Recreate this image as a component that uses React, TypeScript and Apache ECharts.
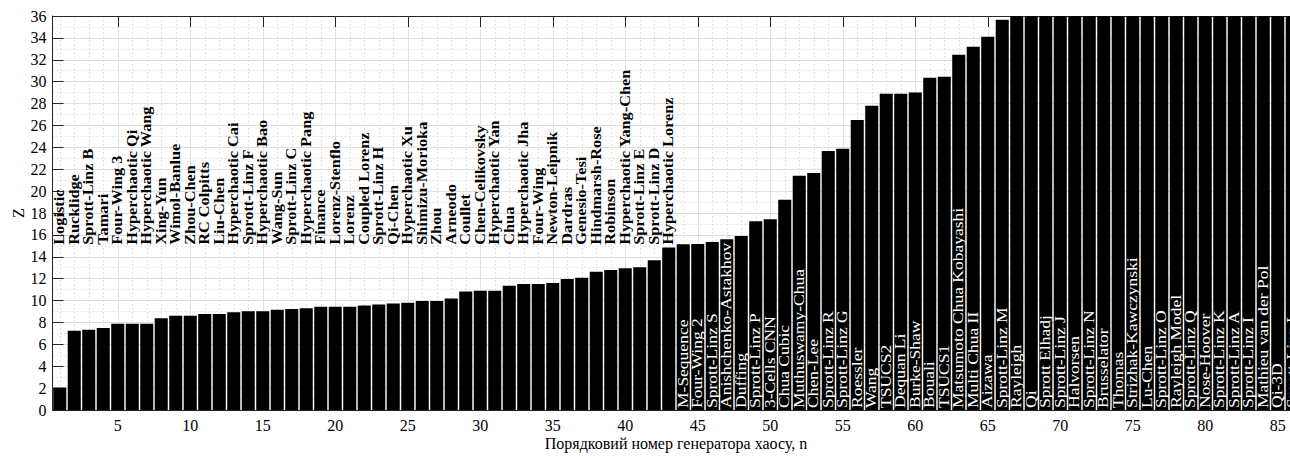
import { useEffect, useRef } from 'react';
import * as echarts from 'echarts';

// Chaos generators, ordered by their Z score
const generatorNames: string[] = [
  'Logistic', 'Rucklidge', 'Sprott-Linz B', 'Tamari', 'Four-Wing 3',
  'Hyperchaotic Qi', 'Hyperchaotic Wang', 'Xing-Yun', 'Wimol-Banlue', 'Zhou-Chen',
  'RC Colpitts', 'Liu-Chen', 'Hyperchaotic Cai', 'Sprott-Linz F', 'Hyperchaotic Bao',
  'Wang-Sun', 'Sprott-Linz C', 'Hyperchaotic Pang', 'Finance', 'Lorenz-Stenflo',
  'Lorenz', 'Coupled Lorenz', 'Sprott-Linz H', 'Qi-Chen', 'Hyperchaotic Xu',
  'Shimizu-Morioka', 'Zhou', 'Arneodo', 'Coullet', 'Chen-Celikovsky',
  'Hyperchaotic Yan', 'Chua', 'Hyperchaotic Jha', 'Four-Wing', 'Newton-Leipnik',
  'Dardras', 'Genesio-Tesi', 'Hindmarsh-Rose', 'Robinson', 'Hyperchaotic Yang-Chen',
  'Sprott-Linz E', 'Sprott-Linz D', 'Hyperchaotic Lorenz', 'M-Sequence', 'Four-Wing 2',
  'Sprott-Linz S', 'Anishchenko-Astakhov', 'Duffing', 'Sprott-Linz P', '3-Cells CNN',
  'Chua Cubic', 'Muthuswamy-Chua', 'Chen-Lee', 'Sprott-Linz R', 'Sprott-Linz G',
  'Roessler', 'Wang', 'TSUCS2', 'Dequan Li', 'Burke-Shaw',
  'Bouali', 'TSUCS1', 'Matsumoto Chua Kobayashi', 'Multi Chua II', 'Aizawa',
  'Sprott-Linz M', 'Rayleigh', 'Qi', 'Sprott Elhadj', 'Sprott-Linz J',
  'Halvorsen', 'Sprott-Linz N', 'Brusselator', 'Thomas', 'Strizhak-Kawczynski',
  'Lu-Chen', 'Sprott-Linz O', 'Rayleigh Model', 'Sprott-Linz Q', 'Nose-Hoover',
  'Sprott-Linz K', 'Sprott-Linz A', 'Sprott-Linz I', 'Mathieu van der Pol', 'Qi-3D',
  'Sprott-Linz L',
];

const zValues: number[] = [
  2.05, 7.25, 7.33, 7.5, 7.89, 7.89, 7.89, 8.38, 8.62, 8.62,
  8.78, 8.78, 8.93, 9.02, 9.02, 9.17, 9.23, 9.29, 9.44, 9.44,
  9.44, 9.54, 9.63, 9.72, 9.81, 9.96, 9.96, 10.18, 10.82, 10.9,
  10.9, 11.36, 11.52, 11.52, 11.6, 11.97, 12.09, 12.64, 12.8, 12.95,
  13.04, 13.68, 14.84, 15.14, 15.17, 15.36, 15.6, 15.9, 17.25, 17.43,
  19.2, 21.4, 21.66, 23.67, 23.86, 26.5, 27.8, 28.9, 28.9, 29.0,
  30.35, 30.44, 32.45, 33.2, 34.1, 35.65, 37.4, 38.9, 40.2, 41.5,
  43.1, 44.6, 46.8, 48.3, 50.9, 53.2, 55.7, 58.4, 61.0, 64.6,
  68.1, 72.5, 77.9, 83.3, 90.6, 98.2,
];

// generator numbers n = 1..N along the x axis
const generatorNumbers: string[] = generatorNames.map((_, i) => String(i + 1));

const Z_MIN = 0;
const Z_MAX = 36;
const Z_STEP = 2;
const N_STEP = 5;

// names of the first generators sit in a row above the bars, the rest inside them
const OUTSIDE_COUNT = 43;
const OUTSIDE_LABEL_BASE = 15.1;

const SERIF = '"Liberation Serif", "Times New Roman", serif';
const X_TITLE = 'Порядковий номер генератора хаосу, n';
const Y_TITLE = 'Z';

export default function App() {
  const ref = useRef<HTMLDivElement>(null);

  useEffect(() => {
    if (!ref.current) return;
    const chart = echarts.init(ref.current, undefined, { renderer: 'svg' });

    const isMajor = (index: number) => (index + 1) % N_STEP === 0;
    const labelData = generatorNames.map((_, i) => [i, i < OUTSIDE_COUNT ? OUTSIDE_LABEL_BASE : Z_MIN]);

    chart.setOption({
      animation: false,
      backgroundColor: '#ffffff',
      grid: { left: 52.5, right: 0.5, top: 16, bottom: 47, containLabel: false, outerBoundsMode: 'none' },
      xAxis: [
        {
          type: 'category',
          data: generatorNumbers,
          position: 'bottom',
          boundaryGap: true,
          name: X_TITLE,
          nameLocation: 'middle',
          nameGap: 25,
          nameMoveOverlap: false,
          nameTextStyle: { fontFamily: SERIF, fontSize: 16, color: '#000' },
          axisLine: { show: true, lineStyle: { color: '#262626', width: 1 } },
          axisTick: { show: true, inside: true, length: 11, alignWithLabel: true, interval: isMajor, lineStyle: { color: '#262626' } },
          axisLabel: {
            show: true,
            interval: isMajor,
            margin: 7,
            fontFamily: SERIF,
            fontSize: 16,
            color: '#000',
          },
          splitLine: { show: true, alignWithLabel: true, interval: isMajor, lineStyle: { color: '#dedede', width: 1 } },
        },
        {
          type: 'category',
          data: generatorNumbers,
          position: 'top',
          boundaryGap: true,
          axisLine: { show: true, lineStyle: { color: '#262626', width: 1 } },
          axisTick: { show: true, inside: true, length: 11, alignWithLabel: true, interval: isMajor, lineStyle: { color: '#262626' } },
          axisLabel: { show: false },
          splitLine: { show: true, alignWithLabel: true, interval: 0, lineStyle: { color: '#e2e2e2', width: 1, type: [2, 2] } },
        },
      ],
      yAxis: {
        type: 'value',
        min: Z_MIN,
        max: Z_MAX,
        interval: Z_STEP,
        name: Y_TITLE,
        nameLocation: 'middle',
        nameGap: 26,
        nameMoveOverlap: false,
        nameRotate: 90,
        nameTextStyle: { fontFamily: SERIF, fontSize: 16, color: '#000' },
        axisLine: { show: true, lineStyle: { color: '#262626', width: 1 } },
        axisTick: { show: true, inside: true, length: 11, lineStyle: { color: '#262626' } },
        axisLabel: { margin: 6, fontFamily: SERIF, fontSize: 16, color: '#000' },
        splitLine: { show: true, lineStyle: { color: '#dedede', width: 1 } },
        minorTick: { show: false, splitNumber: 2 },
        minorSplitLine: { show: true, lineStyle: { color: '#e2e2e2', width: 1, type: [2, 2] } },
      },
      series: [
        {
          type: 'bar',
          xAxisIndex: 0,
          data: zValues,
          barCategoryGap: '10%',
          itemStyle: { color: '#000000' },
          clip: true,
          z: 2,
        },
        {
          type: 'custom',
          xAxisIndex: 0,
          data: labelData,
          z: 5,
          silent: true,
          clip: false,
          renderItem: (params: any, api: any) => {
            const idx = params.dataIndex;
            const outside = idx < OUTSIDE_COUNT;
            const pt = api.coord([api.value(0), api.value(1)]);
            return {
              type: 'text',
              x: pt[0],
              y: outside ? pt[1] : pt[1] - 2,
              rotation: Math.PI / 2,
              scaleX: 1,
              scaleY: 0.85,
              style: {
                text: generatorNames[idx],
                fill: outside ? '#000000' : '#ffffff',
                fontFamily: SERIF,
                fontSize: outside ? 16.3 : 17.5,
                fontWeight: outside ? 'bold' : 'normal',
                align: 'left',
                verticalAlign: 'middle',
              },
            };
          },
        },
      ],
    });

    return () => chart.dispose();
  }, []);

  return (
    <div style={{ position: 'absolute', left: 0, top: 0, width: 1290, height: 457, overflow: 'hidden', background: '#fff' }}>
      <div ref={ref} style={{ width: 1300, height: 457 }} />
    </div>
  );
}
